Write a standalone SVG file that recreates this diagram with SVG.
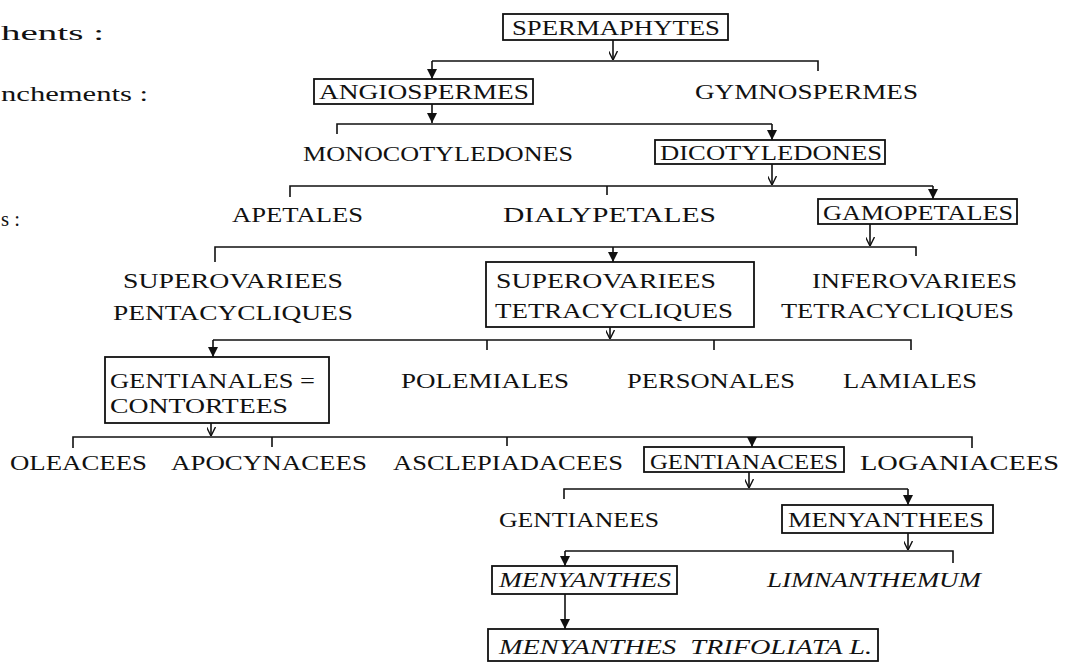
<svg xmlns="http://www.w3.org/2000/svg" width="1069" height="667" viewBox="0 0 1069 667">
<defs>
<marker id="fa" viewBox="0 0 10 10" refX="10" refY="5" markerWidth="10" markerHeight="10" markerUnits="userSpaceOnUse" orient="auto"><path d="M0,0 L10,5 L0,10 z" fill="#111"/></marker>
<marker id="va" viewBox="0 0 10 10" refX="10" refY="5" markerWidth="9" markerHeight="9" markerUnits="userSpaceOnUse" orient="auto"><path d="M0,0 L10,5 L0,10" fill="none" stroke="#111" stroke-width="1.6"/></marker>
</defs>
<style>
text{font-family:"Liberation Serif","Times New Roman",serif;font-size:21px;fill:#111;}
.i{font-style:italic;}
.box{fill:none;stroke:#111;stroke-width:1.8;}
.ln{fill:none;stroke:#111;stroke-width:1.6;}
.f{marker-end:url(#fa);}
.v{marker-end:url(#va);}
</style>
<rect width="1069" height="667" fill="#fff"/>

<g id="legend">
<text x="1" y="40" textLength="103" lengthAdjust="spacingAndGlyphs">hents :</text>
<text x="1" y="101" textLength="147" lengthAdjust="spacingAndGlyphs">nchements :</text>
<text x="1" y="226" textLength="19" lengthAdjust="spacingAndGlyphs">s :</text>
</g>

<g id="connectors">
<path class="ln v" d="M613,40 V60"/>
<path class="ln" d="M432,61 H818 V71"/>
<path class="ln f" d="M432,61 V79"/>

<path class="ln f" d="M432,104 V123"/>
<path class="ln" d="M337,134 V124 H772"/>
<path class="ln f" d="M772,124 V140"/>

<path class="ln v" d="M772,164 V185"/>
<path class="ln" d="M290,197 V186 H933 M607,186 V195"/>
<path class="ln f" d="M933,186 V199"/>

<path class="ln v" d="M870,224 V246"/>
<path class="ln" d="M215,262 V247 H916 V256"/>
<path class="ln f" d="M613,247 V262"/>

<path class="ln v" d="M610,327 V339"/>
<path class="ln" d="M213,340 H911 V350 M487,340 V350 M714,340 V350"/>
<path class="ln f" d="M213,340 V357"/>

<path class="ln v" d="M211,423 V436"/>
<path class="ln" d="M73,448 V437 H972 V448 M272,437 V447 M507,437 V446"/>
<path class="ln f" d="M752,437 V447"/>

<path class="ln v" d="M749,472 V488"/>
<path class="ln" d="M564,499 V489 H908"/>
<path class="ln f" d="M908,489 V505"/>

<path class="ln v" d="M908,533 V550"/>
<path class="ln" d="M565,551 H953 V563"/>
<path class="ln f" d="M565,551 V566"/>

<path class="ln f" d="M565,594 V629"/>
</g>

<g id="spermaphytes"><rect class="box" x="503" y="14" width="225" height="26"/><text x="512" y="35" textLength="208" lengthAdjust="spacingAndGlyphs">SPERMAPHYTES</text></g>
<g id="angiospermes"><rect class="box" x="314" y="79" width="219" height="25"/><text x="319" y="99" textLength="210" lengthAdjust="spacingAndGlyphs">ANGIOSPERMES</text></g>
<g id="gymnospermes"><text x="695" y="99" textLength="223" lengthAdjust="spacingAndGlyphs">GYMNOSPERMES</text></g>
<g id="monocotyledones"><text x="303" y="161" textLength="270" lengthAdjust="spacingAndGlyphs">MONOCOTYLEDONES</text></g>
<g id="dicotyledones"><rect class="box" x="655" y="140" width="230" height="24"/><text x="660" y="160" textLength="222" lengthAdjust="spacingAndGlyphs">DICOTYLEDONES</text></g>
<g id="apetales"><text x="232" y="222" textLength="131" lengthAdjust="spacingAndGlyphs">APETALES</text></g>
<g id="dialypetales"><text x="503" y="222" textLength="213" lengthAdjust="spacingAndGlyphs">DIALYPETALES</text></g>
<g id="gamopetales"><rect class="box" x="818" y="199" width="199" height="25"/><text x="823" y="220" textLength="190" lengthAdjust="spacingAndGlyphs">GAMOPETALES</text></g>
<g id="superovariees-penta"><text x="123" y="288" textLength="220" lengthAdjust="spacingAndGlyphs">SUPEROVARIEES</text><text x="113" y="320" textLength="240" lengthAdjust="spacingAndGlyphs">PENTACYCLIQUES</text></g>
<g id="superovariees-tetra"><rect class="box" x="486" y="262" width="268" height="65"/><text x="496" y="288" textLength="220" lengthAdjust="spacingAndGlyphs">SUPEROVARIEES</text><text x="495" y="318" textLength="238" lengthAdjust="spacingAndGlyphs">TETRACYCLIQUES</text></g>
<g id="inferovariees"><text x="812" y="288" textLength="205" lengthAdjust="spacingAndGlyphs">INFEROVARIEES</text><text x="781" y="318" textLength="233" lengthAdjust="spacingAndGlyphs">TETRACYCLIQUES</text></g>
<g id="gentianales"><rect class="box" x="105" y="357" width="224" height="66"/><text x="110" y="388" textLength="205" lengthAdjust="spacingAndGlyphs">GENTIANALES =</text><text x="110" y="413" textLength="178" lengthAdjust="spacingAndGlyphs">CONTORTEES</text></g>
<g id="polemiales"><text x="401" y="388" textLength="168" lengthAdjust="spacingAndGlyphs">POLEMIALES</text></g>
<g id="personales"><text x="627" y="388" textLength="168" lengthAdjust="spacingAndGlyphs">PERSONALES</text></g>
<g id="lamiales"><text x="843" y="388" textLength="134" lengthAdjust="spacingAndGlyphs">LAMIALES</text></g>
<g id="oleacees"><text x="10" y="470" textLength="137" lengthAdjust="spacingAndGlyphs">OLEACEES</text></g>
<g id="apocynacees"><text x="171" y="470" textLength="196" lengthAdjust="spacingAndGlyphs">APOCYNACEES</text></g>
<g id="asclepiadacees"><text x="393" y="470" textLength="230" lengthAdjust="spacingAndGlyphs">ASCLEPIADACEES</text></g>
<g id="gentianacees"><rect class="box" x="644" y="447" width="200" height="25"/><text x="650" y="469" textLength="188" lengthAdjust="spacingAndGlyphs">GENTIANACEES</text></g>
<g id="loganiacees"><text x="860" y="470" textLength="199" lengthAdjust="spacingAndGlyphs">LOGANIACEES</text></g>
<g id="gentianees"><text x="499" y="527" textLength="160" lengthAdjust="spacingAndGlyphs">GENTIANEES</text></g>
<g id="menyanthees"><rect class="box" x="782" y="505" width="211" height="28"/><text x="788" y="527" textLength="196" lengthAdjust="spacingAndGlyphs">MENYANTHEES</text></g>
<g id="menyanthes"><rect class="box" x="492" y="566" width="185" height="28"/><text class="i" x="499" y="587" textLength="172" lengthAdjust="spacingAndGlyphs">MENYANTHES</text></g>
<g id="limnanthemum"><text class="i" x="767" y="587" textLength="214" lengthAdjust="spacingAndGlyphs">LIMNANTHEMUM</text></g>
<g id="menyanthes-trifoliata"><rect class="box" x="488" y="629" width="390" height="32"/><text class="i" x="499" y="654" textLength="373" lengthAdjust="spacingAndGlyphs" xml:space="preserve">MENYANTHES  TRIFOLIATA L.</text></g>
</svg>
